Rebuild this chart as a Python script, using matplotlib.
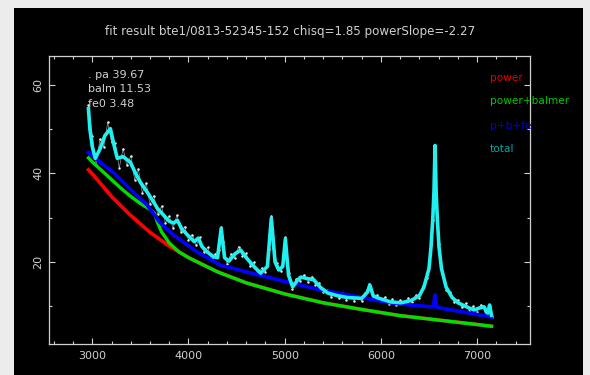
import numpy as np
import matplotlib
matplotlib.use('Agg')
import matplotlib.pyplot as plt
from matplotlib.patches import Rectangle
from matplotlib.ticker import MultipleLocator

# power law continuum
power_wave = [2960, 3000, 3200, 3400, 3600, 3800, 4000, 4300, 4600, 5000, 5400, 5800, 6200, 6600, 7000, 7150]
power_flux = [40.8, 39.9, 34.8, 30.5, 26.7, 23.6, 21.0, 17.8, 15.3, 12.8, 10.8, 9.3, 7.9, 6.9, 5.9, 5.5]

# power + balmer continuum
balm_wave = [2960, 3000, 3100, 3200, 3300, 3400, 3500, 3600, 3646, 3680, 3720, 3800, 3900, 4000,
             4300, 4600, 5000, 5400, 5800, 6200, 6600, 7000, 7150]
balm_flux = [43.5, 42.6, 40.6, 38.6, 36.6, 34.8, 33.2, 31.9, 31.0, 28.8, 26.8, 24.3, 22.3, 21.0,
             17.8, 15.3, 12.8, 10.8, 9.3, 7.9, 6.9, 5.9, 5.5]

# power + balmer + feII
pbf_wave = [2960, 3000, 3100, 3219, 3400, 3573, 3700, 3844, 4094, 4333, 4437, 4854, 5375, 5800,
            6104, 6208, 6521, 6545, 6563, 6581, 6600, 6729, 7150]
pbf_flux = [44.7, 44.0, 42.2, 40.2, 36.3, 32.8, 29.0, 26.1, 22.2, 19.3, 18.7, 16.4, 13.7, 12.0,
            10.8, 10.5, 9.9, 9.9, 12.6, 9.8, 9.7, 9.2, 7.6]

# total model
tot_wave = [2960, 2975, 3000, 3031, 3080, 3130, 3188, 3230, 3260, 3320, 3396, 3450, 3500, 3573,
            3630, 3677, 3740, 3800, 3844, 3885, 3930, 3990, 4060, 4102, 4140, 4198, 4260, 4302,
            4340, 4375, 4420, 4480, 4542, 4600, 4680, 4750, 4820, 4861, 4900, 4938, 4980, 5007,
            5040, 5083, 5130, 5167, 5230, 5302, 5370, 5448, 5550, 5650, 5719, 5800, 5860, 5885,
            5920, 5969, 6100, 6208, 6313, 6400, 6448, 6500, 6521, 6540, 6552, 6563, 6574, 6586,
            6604, 6630, 6677, 6740, 6802, 6900, 6969, 7020, 7073, 7100, 7115, 7130, 7150]
tot_flux = [54.6, 50.0, 46.0, 43.4, 45.5, 48.5, 50.1, 46.0, 43.4, 43.8, 42.5, 40.0, 38.0, 35.7,
            33.8, 32.1, 30.6, 29.2, 28.8, 29.4, 27.5, 26.1, 24.6, 25.4, 23.5, 22.2, 21.2, 21.0,
            27.6, 21.0, 20.2, 21.8, 22.7, 21.0, 19.0, 17.5, 19.0, 29.9, 20.0, 18.2, 19.0, 25.2,
            17.0, 14.4, 15.8, 16.6, 16.3, 16.0, 14.3, 13.0, 12.4, 12.0, 11.9, 11.8, 13.2, 14.8,
            12.4, 11.9, 11.0, 10.8, 11.3, 12.4, 14.4, 18.5, 23.4, 30.0, 36.0, 46.3, 36.0, 30.0,
            23.4, 18.5, 14.4, 12.0, 10.8, 9.8, 9.2, 9.6, 9.9, 8.6, 8.5, 10.3, 8.0]

# observed spectrum
obs_wave = [2960, 3000, 3040, 3080, 3120, 3160, 3200, 3240, 3280, 3320, 3360, 3400, 3440, 3480,
            3520, 3560, 3600, 3640, 3680, 3720, 3760, 3800, 3840, 3880, 3920, 3960, 4000, 4040,
            4080, 4120, 4160, 4200, 4240, 4280, 4320, 4340, 4360, 4400, 4440, 4480, 4520, 4560,
            4600, 4640, 4680, 4720, 4760, 4800, 4840, 4861, 4880, 4920, 4960, 4990, 5007, 5040,
            5080, 5120, 5160, 5200, 5240, 5280, 5320, 5360, 5400, 5440, 5480, 5520, 5560, 5600,
            5640, 5680, 5720, 5760, 5800, 5840, 5880, 5920, 5960, 6000, 6040, 6080, 6120, 6160,
            6200, 6240, 6280, 6320, 6360, 6400, 6440, 6480, 6520, 6540, 6563, 6586, 6600, 6640,
            6680, 6720, 6760, 6800, 6840, 6880, 6920, 6960, 7000, 7040, 7080, 7120, 7150]
obs_flux = [55.5, 48.5, 42.0, 47.8, 46.0, 51.5, 47.0, 46.8, 41.2, 45.6, 41.8, 44.0, 38.6, 40.9,
            35.6, 37.8, 33.0, 35.0, 30.8, 32.6, 28.8, 30.4, 27.6, 30.6, 26.8, 28.0, 25.0, 26.2,
            23.8, 25.6, 22.2, 23.3, 20.6, 21.9, 22.8, 27.9, 24.5, 19.6, 21.8, 20.9, 23.5, 21.4,
            22.0, 19.2, 19.9, 17.3, 18.6, 17.8, 23.0, 30.3, 23.2, 19.8, 17.9, 22.0, 25.6, 17.6,
            14.0, 16.2, 15.8, 17.1, 15.6, 16.7, 14.9, 15.2, 13.2, 13.8, 12.2, 13.3, 11.8, 12.9,
            11.5, 12.6, 11.3, 12.4, 11.2, 13.0, 15.0, 11.9, 12.6, 11.1, 12.1, 10.6, 11.6, 10.3,
            11.4, 10.5, 11.8, 10.9, 12.5, 11.9, 14.6, 16.3, 23.8, 29.4, 45.8, 30.6, 24.0, 17.9,
            13.8, 13.2, 11.0, 11.5, 9.8, 10.7, 9.0, 10.0, 8.8, 10.4, 9.0, 10.1, 7.6]

params = ['. pa 39.67', 'balm 11.53', 'fe0 3.48']
labels = ['power', 'power+balmer', 'p+b+fe', 'total']
label_colors = ['#e00000', '#00c800', '#0000e0', '#00a8a8']

W, H = 590, 375
fig = plt.figure(figsize=(W / 100, H / 100), dpi=100, facecolor='#ececec')
fig.add_artist(Rectangle((14 / W, 0), (583 - 14) / W, 1 - 8 / H,
                         transform=fig.transFigure, facecolor='black', edgecolor='none', zorder=-10))

ax = fig.add_axes([49 / W, 1 - 344 / H, (530 - 49) / W, (344 - 56) / H])
ax.set_facecolor('black')

ax.plot(obs_wave, obs_flux, color='white', lw=0.5, alpha=0.6, zorder=2)
ax.plot(obs_wave, obs_flux, ls='none', color='#e8e8e8', marker='o', ms=1.8, mew=0, zorder=2)
ax.plot(power_wave, power_flux, color='#ff0000', lw=2.6, zorder=3)
ax.plot(balm_wave, balm_flux, color='#00e000', lw=2.4, zorder=4)
ax.plot(pbf_wave, pbf_flux, color='#0000ff', lw=2.6, zorder=5)
ax.plot(tot_wave, tot_flux, color='#20f0f0', lw=2.6, zorder=6)

ax.set_xlim(2550, 7550)
ax.set_ylim(1.5, 66.5)
ax.xaxis.set_major_locator(MultipleLocator(1000))
ax.xaxis.set_minor_locator(MultipleLocator(200))
ax.yaxis.set_major_locator(MultipleLocator(20))
ax.yaxis.set_minor_locator(MultipleLocator(10))

fg = '#d0d0d0'
for s in ax.spines.values():
    s.set_color(fg)
    s.set_linewidth(0.9)
ax.tick_params(which='both', direction='in', top=True, right=True, colors=fg, labelsize=8)
ax.tick_params(which='major', length=4, width=0.8)
ax.tick_params(which='minor', length=2.5, width=0.8)
ax.tick_params(axis='x', pad=5)
ax.tick_params(axis='y', pad=4)
for t in ax.get_yticklabels():
    t.set_rotation(90)
    t.set_va('center')

fig.text(290 / W, 1 - 31 / H, 'fit result bte1/0813-52345-152 chisq=1.85 powerSlope=-2.27',
         color=fg, fontsize=8.6, ha='center', va='center')

for i, p in enumerate(params):
    ax.text(0.081, [0.934, 0.885, 0.833][i], p, transform=ax.transAxes, color=fg,
            fontsize=8, ha='left', va='center')
for i, lab in enumerate(labels):
    ax.text(0.917, [0.924, 0.844, 0.757, 0.677][i], lab, transform=ax.transAxes,
            color=label_colors[i], fontsize=7.6, ha='left', va='center', clip_on=False)

fig.savefig('out.png', dpi=100, facecolor=fig.get_facecolor())
